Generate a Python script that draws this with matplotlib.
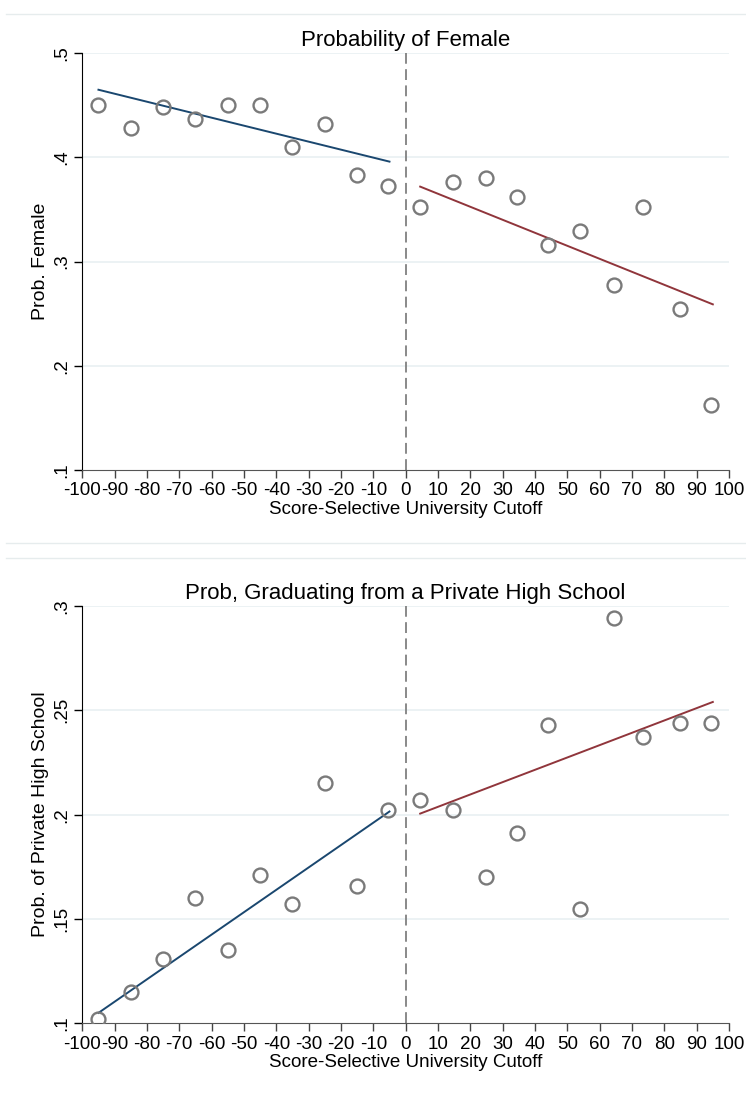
import matplotlib.pyplot as plt
from matplotlib.lines import Line2D
from matplotlib.ticker import FuncFormatter

plt.rcParams['font.family'] = ['Liberation Sans', 'DejaVu Sans']
plt.rcParams['axes.unicode_minus'] = False

# bin midpoints (score relative to cutoff)
bins = [-95, -85, -75, -65, -55, -45, -35, -25, -15, -5.5,
        4.5, 14.5, 25, 34.5, 44, 54, 64.5, 73.5, 85, 94.5]

# panel 1: probability female
female = [0.450, 0.428, 0.448, 0.437, 0.450, 0.450, 0.410, 0.432, 0.383, 0.373,
          0.352, 0.376, 0.380, 0.362, 0.316, 0.329, 0.278, 0.352, 0.255, 0.162]
female_fit_left = [0.465, 0.396]
female_fit_right = [0.372, 0.259]

# panel 2: probability of private high school
private = [0.102, 0.115, 0.131, 0.160, 0.135, 0.171, 0.157, 0.215, 0.166, 0.202,
           0.207, 0.202, 0.170, 0.191, 0.243, 0.155, 0.294, 0.237, 0.244, 0.244]
private_fit_left = [0.105, 0.2015]
private_fit_right = [0.2005, 0.254]

fit_x_left = [-95, -5]
fit_x_right = [4.5, 95]

xticks = list(range(-100, 101, 10))

blue = '#1a476f'
red = '#90353b'
grid_col = '#e9f0f2'
marker_col = '#7a7a7a'


def yfmt(v, pos):
    s = f"{v:g}"
    return s[1:] if s.startswith('0') else s


def draw_panel(ax, y, fit_left, fit_right, title, ylabel, ylim, yticks):
    for t in yticks[1:]:
        ax.axhline(t, color=grid_col, lw=1.2, zorder=0)
    ax.axvline(0, color='#808080', lw=1.3, ls=(0, (6, 3)), zorder=1)
    ax.plot(fit_x_left, fit_left, color=blue, lw=1.4, zorder=2)
    ax.plot(fit_x_right, fit_right, color=red, lw=1.4, zorder=2)
    ax.plot(bins, y, ls='none', marker='o', ms=10, mfc='none',
            mec=marker_col, mew=1.7, zorder=3)
    ax.set_xlim(-100, 100)
    ax.set_ylim(*ylim)
    ax.set_xticks(xticks)
    ax.set_yticks(yticks)
    ax.yaxis.set_major_formatter(FuncFormatter(yfmt))
    ax.tick_params(axis='x', length=6, width=1, colors='#444444',
                   labelcolor='black', labelsize=13.5, pad=3)
    ax.tick_params(axis='y', length=6, width=1, labelsize=13.5, pad=3,
                   labelrotation=90)
    for lab in ax.get_yticklabels():
        lab.set_va('center')
    ax.spines['top'].set_visible(False)
    ax.spines['right'].set_visible(False)
    ax.spines['bottom'].set_color('#555555')
    ax.set_title(title, fontsize=16, pad=5)
    ax.set_xlabel('Score-Selective University Cutoff', fontsize=13.5, labelpad=1)
    ax.set_ylabel(ylabel, fontsize=14, labelpad=3)


fig = plt.figure(figsize=(7.46, 10.94), dpi=100)
ax1 = fig.add_axes([0.1103, 0.5704, 0.8669, 0.3809])
ax2 = fig.add_axes([0.1103, 0.0646, 0.8669, 0.3815])

draw_panel(ax1, female, female_fit_left, female_fit_right,
           'Probability of Female', 'Prob. Female', (0.1, 0.5),
           [0.1, 0.2, 0.3, 0.4, 0.5])
draw_panel(ax2, private, private_fit_left, private_fit_right,
           'Prob, Graduating from a Private High School',
           'Prob. of Private High School', (0.1, 0.3),
           [0.1, 0.15, 0.2, 0.25, 0.3])

# faint graph-region borders
for yy in [1 - 14 / 1094, 1 - 543 / 1094, 1 - 558 / 1094]:
    fig.add_artist(Line2D([0.008, 1.0], [yy, yy], color='#e6eced', lw=1.0))

fig.savefig('out.png', dpi=100)
